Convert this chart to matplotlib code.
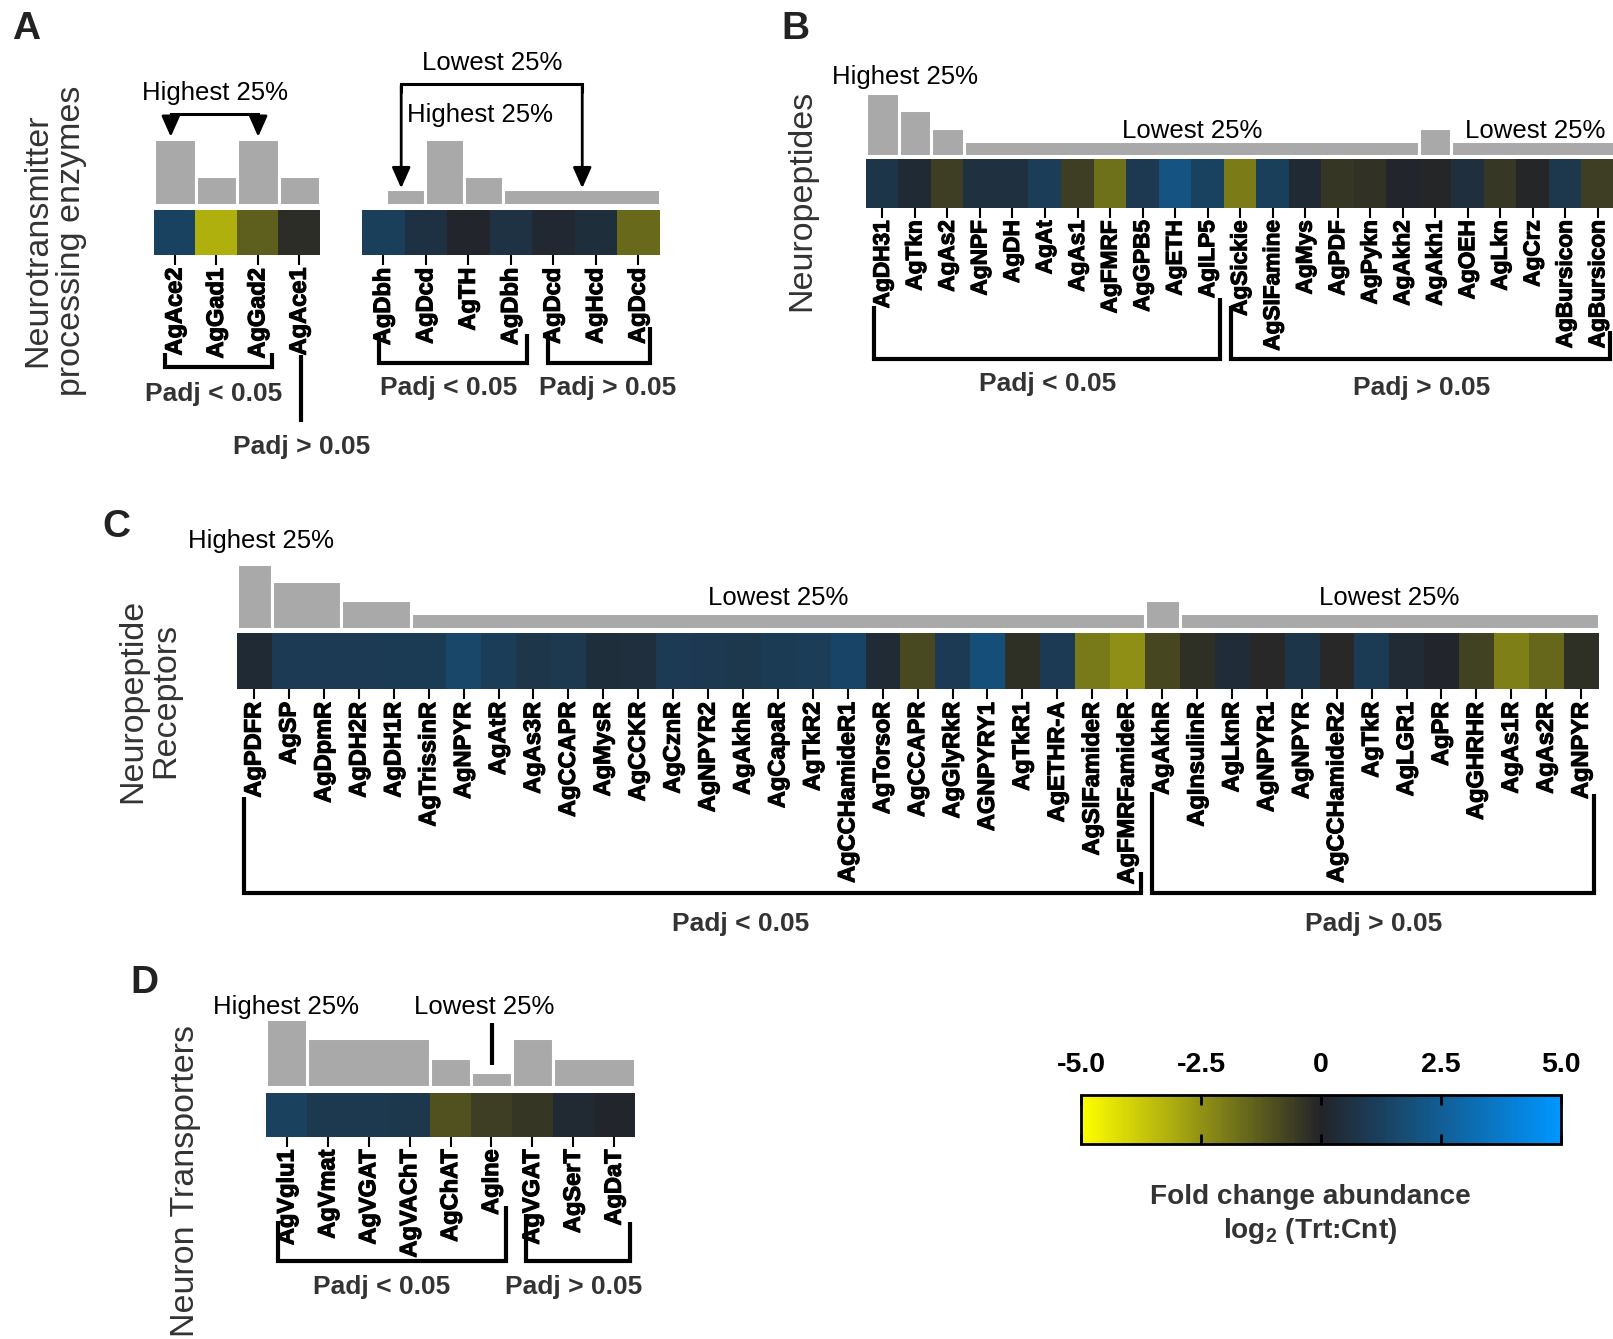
import numpy as np
import matplotlib
matplotlib.use('Agg')
import matplotlib.pyplot as plt
import matplotlib.patheffects as pe
from matplotlib.colors import LinearSegmentedColormap, Normalize
from matplotlib.cm import ScalarMappable
from itertools import groupby

# ---------------- data ----------------
a1_genes = ['AgAce2', 'AgGad1', 'AgGad2', 'AgAce1']
a1_fc = [1.3, -3.2, -1.35, -0.2]
a1_abund = [64, 28, 64, 28]

a2_genes = ['AgDbh', 'AgDcd', 'AgTH', 'AgDbh', 'AgDcd', 'AgHcd', 'AgDcd']
a2_fc = [1.2, 0.6, 0.1, 0.65, 0.2, 0.45, -1.6]
a2_abund = [15, 64, 28, 15, 15, 15, 15]

b_genes = ['AgDH31', 'AgTkn', 'AgAs2', 'AgNPF', 'AgDH', 'AgAt', 'AgAs1', 'AgFMRF',
           'AgGPB5', 'AgETH', 'AgILP5', 'AgSickie', 'AgSIFamine', 'AgMys', 'AgPDF',
           'AgPykn', 'AgAkh2', 'AgAkh1', 'AgOEH', 'AgLkn', 'AgCrz', 'AgBursicon',
           'AgBursicon']
b_fc = [0.75, 0.3, -0.6, 0.55, 0.55, 1.1, -0.6, -1.75, 0.95, 2.1, 1.3, -2.0, 1.2,
        0.3, -0.4, -0.35, 0.1, -0.05, 0.5, -0.45, -0.05, 0.85, -0.6]
b_abund = [62, 45, 28, 15, 15, 15, 15, 15, 15, 15, 15, 15, 15, 15, 15, 15, 15, 28,
           15, 15, 15, 15, 15]

c_genes = ['AgPDFR', 'AgSP', 'AgDpmR', 'AgDH2R', 'AgDH1R', 'AgTrissinR', 'AgNPYR',
           'AgAtR', 'AgAs3R', 'AgCCAPR', 'AgMysR', 'AgCCKR', 'AgCznR', 'AgNPYR2',
           'AgAkhR', 'AgCapaR', 'AgTkR2', 'AgCCHamideR1', 'AgTorsoR', 'AgCCAPR',
           'AgGlyRkR', 'AGNPYRY1', 'AgTkR1', 'AgETHR-A', 'AgSIFamideR', 'AgFMRFamideR',
           'AgAkhR', 'AgInsulinR', 'AgLknR', 'AgNPYR1', 'AgNPYR', 'AgCCHamideR2',
           'AgTkR', 'AgLGR1', 'AgPR', 'AgGHRHR', 'AgAs1R', 'AgAs2R', 'AgNPYR']
c_fc = [0.3, 1.0, 1.0, 1.0, 1.05, 1.05, 1.55, 1.1, 0.8, 0.9, 0.45, 0.5, 1.0, 0.95,
        0.85, 1.05, 1.1, 1.45, 0.35, -0.85, 1.0, 1.9, -0.3, 1.0, -1.95, -2.45,
        -0.8, -0.3, 0.4, -0.1, 0.75, -0.1, 1.05, 0.35, 0.1, -0.7, -2.1, -1.55, -0.25]
c_abund = [63, 46, 46, 28, 28, 15, 15, 15, 15, 15, 15, 15, 15, 15, 15, 15, 15, 15,
           15, 15, 15, 15, 15, 15, 15, 15, 28, 15, 15, 15, 15, 15, 15, 15, 15, 15,
           15, 15, 15]

d_genes = ['AgVglu1', 'AgVmat', 'AgVGAT', 'AgVAChT', 'AgChAT', 'AgIne', 'AgVGAT',
           'AgSerT', 'AgDaT']
d_fc = [1.25, 0.9, 0.9, 0.85, -1.05, -0.6, -0.4, 0.25, 0.1]
d_abund = [66, 48, 48, 48, 29, 15, 48, 29, 29]

cbar_ticks = [-5, -2.5, 0, 2.5, 5]
cbar_ticklabels = ['-5.0', '-2.5', '0', '2.5', '5.0']

# ---------------- style ----------------
plt.rcParams['font.family'] = ['Liberation Sans', 'DejaVu Sans']
plt.rcParams['mathtext.fontset'] = 'custom'
plt.rcParams['mathtext.rm'] = 'Liberation Sans'
plt.rcParams['mathtext.bf'] = 'Liberation Sans:bold'

cmap = LinearSegmentedColormap.from_list(
    'yb', [(0.0, '#FFFF00'), (0.5, '#232428'), (1.0, '#0096FF')])
norm = Normalize(vmin=-5, vmax=5)
GRAY = '#a9a9a9'
LBL = '#333333'
HEAVY = [pe.withStroke(linewidth=0.8, foreground='black')]

W, H = 1613, 1339
RW, RH = 1568.0, 1301.6  # reference-view coordinate frame

fig = plt.figure(figsize=(W / 100, H / 100), dpi=100)


def R(x0, y0, x1, y1):
    return [x0 / RW, 1 - y1 / RH, (x1 - x0) / RW, (y1 - y0) / RH]


def heat(x0, y0, x1, y1, genes, fc, fs):
    ax = fig.add_axes(R(x0, y0, x1, y1))
    n = len(genes)
    ax.imshow(np.array(fc)[None, :], cmap=cmap, norm=norm, aspect='auto',
              extent=(-0.5, n - 0.5, 0, 1), interpolation='nearest')
    ax.set_xlim(-0.5, n - 0.5)
    ax.set_ylim(0, 1)
    ax.set_xticks(np.arange(n))
    labs = ax.set_xticklabels(genes, rotation=90, fontsize=fs, fontweight='bold')
    for t in labs:
        t.set_path_effects(HEAVY)
    ax.set_yticks([])
    for sp in ax.spines.values():
        sp.set_visible(False)
    ax.tick_params(axis='x', length=7, width=1.5, pad=2, color='black')
    return ax


def bars(x0, x1, base, vals):
    top = 70
    ax = fig.add_axes(R(x0, base - top, x1, base))
    i = 0
    for v, grp in groupby(vals):
        k = len(list(grp))
        ax.bar(i - 0.5, v, width=k, align='edge', color=GRAY,
               edgecolor='white', linewidth=2.2)
        i += k
    ax.set_xlim(-0.5, len(vals) - 0.5)
    ax.set_ylim(0, top)
    ax.axis('off')
    return ax


# Panel A
heat(150, 204, 311, 248, a1_genes, a1_fc, 17)
bars(150, 311, 199, a1_abund)
heat(352, 204, 641, 248, a2_genes, a2_fc, 17)
bars(375, 642, 199, a2_abund)

# Panel B
heat(842, 155, 1569, 202, b_genes, b_fc, 16.3)
bars(842, 1569, 152, b_abund)

# Panel C
heat(230, 615, 1554, 670, c_genes, c_fc, 17)
bars(230, 1554, 611, c_abund)

# Panel D
heat(259, 1062, 617, 1105, d_genes, d_fc, 17)
bars(259, 617, 1057, d_abund)

# Colorbar
cax = fig.add_axes(R(1051, 1064, 1517, 1112))
cb = fig.colorbar(ScalarMappable(norm=norm, cmap=cmap), cax=cax,
                  orientation='horizontal', ticks=cbar_ticks)
cax.xaxis.set_ticks_position('both')
cax.tick_params(axis='x', direction='in', length=7, width=2, labeltop=True,
                labelbottom=False, pad=12)
cax.set_xticklabels(cbar_ticklabels, fontweight='bold', fontsize=20.5)
cb.outline.set_linewidth(2)

# ---------------- overlay annotations ----------------
ov = fig.add_axes([0, 0, 1, 1], zorder=10)
ov.set_xlim(0, RW)
ov.set_ylim(RH, 0)
ov.axis('off')
ov.patch.set_visible(False)


def line(pts, lw=3.0):
    xs, ys = zip(*pts)
    ov.plot(xs, ys, color='k', lw=lw, solid_capstyle='butt', solid_joinstyle='miter')


def arrow(x, y0, y1, lw=2.0):
    ov.annotate('', xy=(x, y1), xytext=(x, y0),
                arrowprops=dict(arrowstyle='-|>,head_width=0.4,head_length=0.9',
                                color='k', lw=lw, shrinkA=0, shrinkB=0,
                                mutation_scale=14))


def txt(x, y, s, size=18.5, weight='normal', color='black', **kw):
    ov.text(x, y, s, ha='center', va='baseline', fontsize=size,
            fontweight=weight, color=color, **kw)


def letter(x, y, s):
    ov.text(x, y, s, ha='left', va='baseline', fontsize=28, fontweight='bold',
            color='#222222')


def ylab(x, y, s):
    ov.text(x, y, s, ha='center', va='center', rotation=90, fontsize=24.5,
            color=LBL, linespacing=1.1, multialignment='center')


PADJ = dict(size=19, weight='bold', color=LBL)

# A
letter(12, 38, 'A')
ylab(53, 234, 'Neurotransmitter\nprocessing enzymes')
txt(209, 97, 'Highest 25%')
line([(166, 118), (166, 111), (251, 111), (251, 118)], lw=2.2)
arrow(166, 112, 133)
arrow(251, 112, 133)
txt(478, 68, 'Lowest 25%')
txt(467, 119, 'Highest 25%')
line([(390, 90), (390, 82), (566, 82), (566, 90)], lw=2.2)
arrow(390, 83, 183)
arrow(566, 83, 183)
line([(160, 343), (160, 357), (264, 357), (264, 343)])
txt(208, 390, 'Padj < 0.05', **PADJ)
line([(293, 345), (293, 410)])
txt(293, 441, 'Padj > 0.05', **PADJ)
line([(368, 327), (368, 353), (512, 353), (512, 325)])
line([(533, 326), (533, 353), (632, 353), (632, 318)])
txt(436, 384, 'Padj < 0.05', **PADJ)
txt(591, 384, 'Padj > 0.05', **PADJ)

# B
letter(760, 38, 'B')
ylab(779, 195, 'Neuropeptides')
txt(880, 82, 'Highest 25%')
txt(1159, 134, 'Lowest 25%')
txt(1492, 134, 'Lowest 25%')
line([(850, 297), (850, 349), (1186, 349), (1186, 290)])
line([(1197, 297), (1197, 349), (1565, 349), (1565, 322)])
txt(1018, 380, 'Padj < 0.05', **PADJ)
txt(1382, 384, 'Padj > 0.05', **PADJ)

# C
letter(100, 522, 'C')
ylab(145, 681, 'Neuropeptide\nReceptors')
txt(254, 533, 'Highest 25%')
txt(756, 588, 'Lowest 25%')
txt(1350, 588, 'Lowest 25%')
line([(237, 775), (237, 868), (1109, 868), (1109, 848)])
line([(1120, 770), (1120, 868), (1550, 868), (1550, 772)])
txt(720, 905, 'Padj < 0.05', **PADJ)
txt(1335, 905, 'Padj > 0.05', **PADJ)

# D
letter(127, 965, 'D')
ylab(180, 1148, 'Neuron Transporters')
txt(278, 986, 'Highest 25%')
txt(471, 986, 'Lowest 25%')
line([(478, 994), (478, 1035)])
line([(270, 1187), (270, 1226), (492, 1226), (492, 1172)])
line([(511, 1180), (511, 1226), (612, 1226), (612, 1188)])
txt(371, 1258, 'Padj < 0.05', **PADJ)
txt(558, 1258, 'Padj > 0.05', **PADJ)

# colorbar label
txt(1274, 1170, 'Fold change abundance', size=20.2, weight='bold', color=LBL)
txt(1274, 1203, r'log$_{\mathbf{2}}$ (Trt:Cnt)', size=20.2, weight='bold', color=LBL)

fig.savefig('out.png', dpi=100)
